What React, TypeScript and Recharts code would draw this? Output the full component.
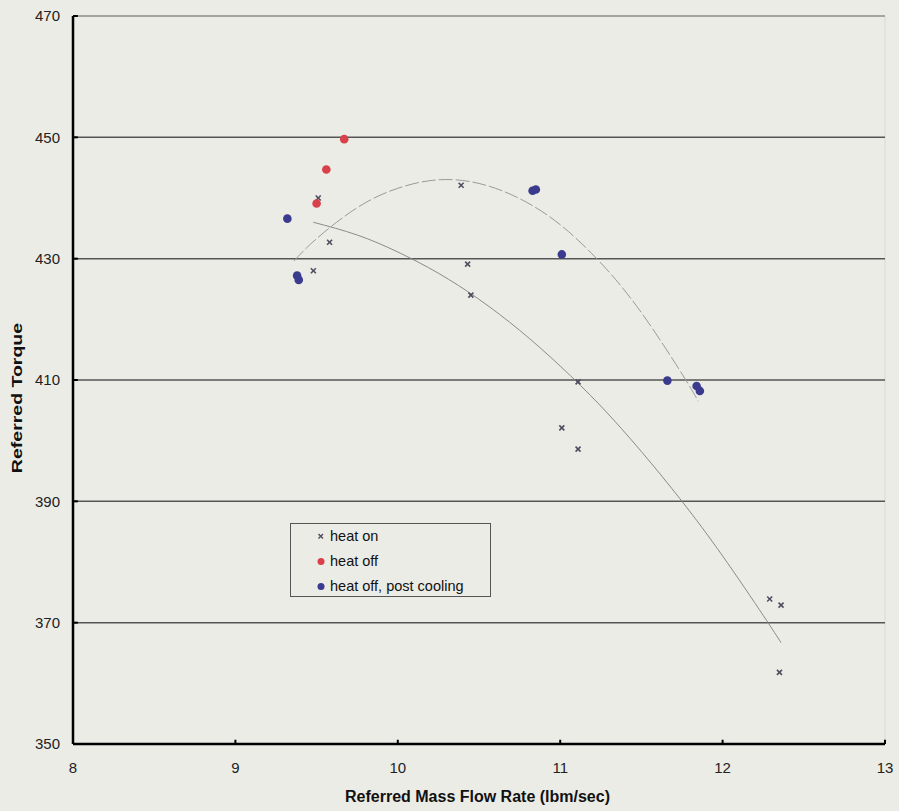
import React from 'react';
import {
  ScatterChart,
  Scatter,
  XAxis,
  YAxis,
  ReferenceLine,
} from 'recharts';

const xTicks = [8, 9, 10, 11, 12, 13];
const yTicks = [350, 370, 390, 410, 430, 450, 470];
const gridValues = [370, 390, 410, 430, 450];

const heatOn = [
  { x: 9.51, y: 440.0 },
  { x: 9.58, y: 432.7 },
  { x: 9.48, y: 428.0 },
  { x: 10.39, y: 442.1 },
  { x: 10.43, y: 429.1 },
  { x: 10.45, y: 424.0 },
  { x: 11.11, y: 409.7 },
  { x: 11.01, y: 402.1 },
  { x: 11.11, y: 398.6 },
  { x: 12.29, y: 373.9 },
  { x: 12.36, y: 372.9 },
  { x: 12.35, y: 361.8 },
];

const heatOff = [
  { x: 9.67, y: 449.7 },
  { x: 9.56, y: 444.7 },
  { x: 9.5, y: 439.1 },
];

const postCooling = [
  { x: 9.32, y: 436.6 },
  { x: 9.38, y: 427.2 },
  { x: 9.39, y: 426.5 },
  { x: 10.83, y: 441.2 },
  { x: 10.85, y: 441.4 },
  { x: 11.01, y: 430.7 },
  { x: 11.66, y: 409.9 },
  { x: 11.84, y: 409.0 },
  { x: 11.86, y: 408.2 },
];

// trendlines
const heatOnTrend = [
  { x: 9.48, y: 436.0 },
  { x: 9.75, y: 433.9 },
  { x: 10.0, y: 431.1 },
  { x: 10.25, y: 427.6 },
  { x: 10.5, y: 423.3 },
  { x: 10.75, y: 418.2 },
  { x: 11.0, y: 412.3 },
  { x: 11.25, y: 405.7 },
  { x: 11.5, y: 398.2 },
  { x: 11.75, y: 390.0 },
  { x: 12.0, y: 381.0 },
  { x: 12.25, y: 371.2 },
  { x: 12.36, y: 366.7 },
];

const coolingTrend = [
  { x: 9.36, y: 429.6 },
  { x: 9.5, y: 433.3 },
  { x: 9.75, y: 438.4 },
  { x: 10.0, y: 441.6 },
  { x: 10.25, y: 443.0 },
  { x: 10.5, y: 442.4 },
  { x: 10.75, y: 439.9 },
  { x: 11.0, y: 435.6 },
  { x: 11.25, y: 429.3 },
  { x: 11.5, y: 421.1 },
  { x: 11.75, y: 411.0 },
  { x: 11.85, y: 406.5 },
];

const legendItems = ['heat on', 'heat off', 'heat off, post cooling'];

const FONT = '"Liberation Sans", Arial, sans-serif';
const BG = '#ecece6';
const RED = '#d8404a';
const BLUE = '#3a3a8e';
const XMARK = '#4e4e60';

const XShape = (props: any) => {
  const { cx, cy } = props;
  const s = 2.5;
  return (
    <g stroke={XMARK} strokeWidth={1.6}>
      <line x1={cx - s} y1={cy - s} x2={cx + s} y2={cy + s} />
      <line x1={cx - s} y1={cy + s} x2={cx + s} y2={cy - s} />
    </g>
  );
};

const Dot = (color: string) => (props: any) => (
  <circle cx={props.cx} cy={props.cy} r={4.3} fill={color} />
);

const NoShape = () => null;

const LegendBox = () => (
  <div
    style={{
      position: 'absolute',
      left: 290,
      top: 523,
      border: '1px solid #555',
      width: 201,
      height: 74,
      boxSizing: 'border-box',
      fontFamily: FONT,
      fontSize: 14.5,
      color: '#111',
    }}
  >
    {legendItems.map((label, i) => (
      <div
        key={label}
        style={{
          position: 'absolute',
          top: 3 + i * 25,
          left: 0,
          height: 18,
          display: 'flex',
          alignItems: 'center',
          whiteSpace: 'nowrap',
        }}
      >
        <svg width={39} height={12}>
          {i === 0 ? (
            <g stroke={XMARK} strokeWidth={1.4}>
              <line x1={27.5} y1={4} x2={32} y2={8.5} />
              <line x1={27.5} y1={8.5} x2={32} y2={4} />
            </g>
          ) : (
            <circle cx={30} cy={6.5} r={3.5} fill={i === 1 ? RED : BLUE} />
          )}
        </svg>
        <span>{label}</span>
      </div>
    ))}
  </div>
);

export default function App() {
  return (
    <div
      style={{
        position: 'absolute',
        left: 0,
        top: 0,
        width: 899,
        height: 811,
        background: BG,
        fontFamily: FONT,
      }}
    >
      <ScatterChart
        width={899}
        height={811}
        margin={{ top: 16, right: 14, bottom: 37, left: 13 }}
      >
        <XAxis
          type="number"
          dataKey="x"
          domain={[8, 13]}
          ticks={xTicks}
          allowDataOverflow
          height={30}
          stroke="#000"
          strokeWidth={2.5}
          tickLine={false}
          tickSize={5}
          tickMargin={13}
          tick={{ fill: '#222', fontSize: 15, fontFamily: FONT }}
        />
        <YAxis
          type="number"
          dataKey="y"
          domain={[350, 470]}
          ticks={yTicks}
          allowDataOverflow
          width={60}
          stroke="#000"
          strokeWidth={2.5}
          tickLine={false}
          tickSize={4}
          tickMargin={9}
          tick={{ fill: '#222', fontSize: 15, fontFamily: FONT }}
        />
        <ReferenceLine x={13} stroke="#dadad5" strokeWidth={1} />
        {gridValues.map((v) => (
          <ReferenceLine key={v} y={v} stroke="#555" strokeWidth={1.5} />
        ))}
        <ReferenceLine y={470} stroke="#8c8c8c" strokeWidth={1.5} />
        {xTicks.slice(1).map((t) => (
          <ReferenceLine
            key={'xt' + t}
            segment={[{ x: t, y: 350 }, { x: t, y: 350.7 }]}
            stroke="#000"
            strokeWidth={2}
          />
        ))}
        {yTicks.slice(1).map((t) => (
          <ReferenceLine
            key={'yt' + t}
            segment={[{ x: 8, y: t }, { x: 8.03, y: t }]}
            stroke="#000"
            strokeWidth={2}
          />
        ))}
        <Scatter
          name="heat on trend"
          data={heatOnTrend}
          line={{ stroke: '#8a8a8a', strokeWidth: 1 }}
          lineJointType="natural"
          shape={NoShape}
          legendType="none"
          isAnimationActive={false}
        />
        <Scatter
          name="cooling trend"
          data={coolingTrend}
          line={{ stroke: '#9a9a9a', strokeWidth: 1, strokeDasharray: '14 3' }}
          lineJointType="natural"
          shape={NoShape}
          legendType="none"
          isAnimationActive={false}
        />
        <Scatter name="heat on" data={heatOn} shape={XShape} isAnimationActive={false} />
        <Scatter name="heat off" data={heatOff} shape={Dot(RED)} isAnimationActive={false} />
        <Scatter
          name="heat off, post cooling"
          data={postCooling}
          shape={Dot(BLUE)}
          isAnimationActive={false}
        />
      </ScatterChart>
      <LegendBox />
      <div
        style={{
          position: 'absolute',
          left: 345,
          top: 797,
          transform: 'translateY(-50%)',
          whiteSpace: 'nowrap',
          fontWeight: 'bold',
          fontSize: 16,
          color: '#111',
        }}
      >
        Referred Mass Flow Rate (lbm/sec)
      </div>
      <div
        style={{
          position: 'absolute',
          left: 16,
          top: 398,
          transform: 'translate(-50%, -50%) rotate(-90deg) scaleX(1.3)',
          whiteSpace: 'nowrap',
          fontWeight: 'bold',
          fontSize: 15,
          color: '#111',
        }}
      >
        Referred Torque
      </div>
    </div>
  );
}
